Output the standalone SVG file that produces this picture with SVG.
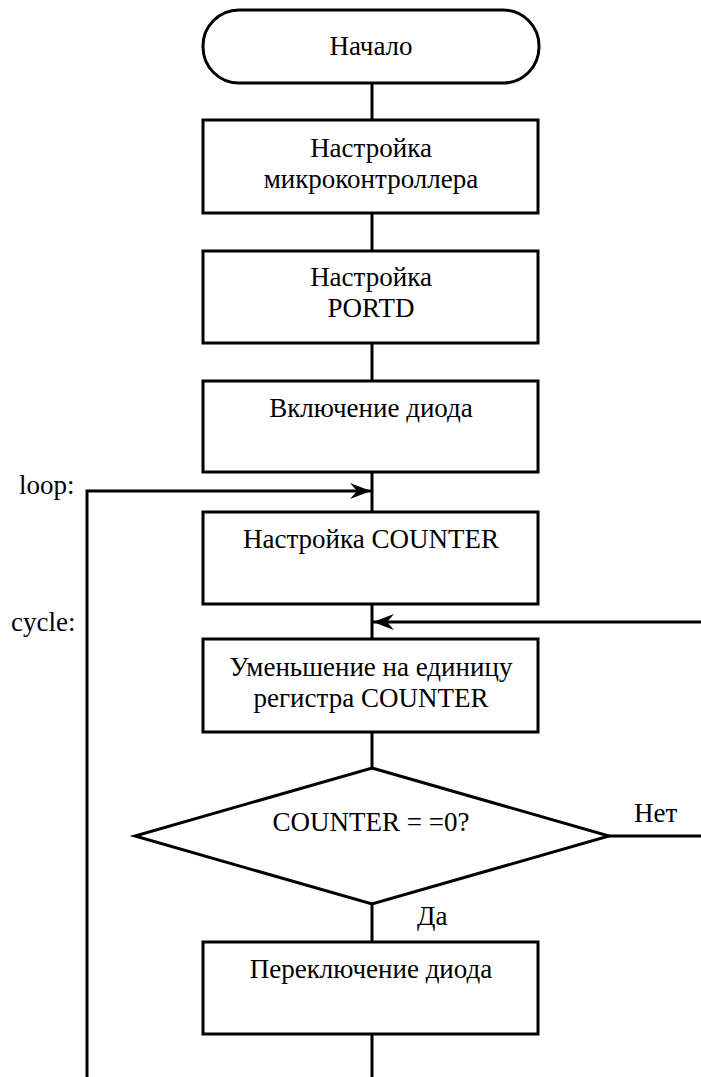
<svg xmlns="http://www.w3.org/2000/svg" width="701" height="1077" viewBox="0 0 701 1077">
<style>
.shape{fill:#fff;stroke:#000;stroke-width:3}
.line{fill:none;stroke:#000;stroke-width:3}
text{font-family:"Liberation Serif","Times New Roman",serif;font-size:27px;fill:#000}
.c{text-anchor:middle}
</style>
<defs>
<marker id="arr" markerUnits="userSpaceOnUse" markerWidth="24" markerHeight="20" viewBox="-22 -10 24 20" refX="0" refY="0" orient="auto">
<path d="M0,0 L-21,-8 L-14,0 L-21,8 Z" fill="#000"/>
</marker>
<linearGradient id="fade" x1="0" y1="0" x2="1" y2="0">
<stop offset="0" stop-color="#888"/>
<stop offset="1" stop-color="#fff"/>
</linearGradient>
</defs>
<rect width="701" height="1077" fill="#fff"/>
<g id="connectors">
<path class="line" d="M372,83 V120"/>
<path class="line" d="M372,213 V251"/>
<path class="line" d="M372,343 V381"/>
<path class="line" d="M372,472 V512"/>
<path class="line" d="M372,604 V639"/>
<path class="line" d="M372,732 V768"/>
<path class="line" d="M372,904 V942"/>
<path class="line" d="M372,1034 V1077"/>
<path class="line" d="M87,1077 V491 H371" marker-end="url(#arr)"/>
<path class="line" d="M609,836 H704 V622 H373" marker-end="url(#arr)"/>
<line x1="87" y1="1076" x2="330" y2="1076" stroke="url(#fade)" stroke-width="2"/>
</g>
<g id="start">
<rect class="shape" x="203" y="10" width="336" height="73" rx="36" ry="36"/>
<text class="c" x="371" y="55">Начало</text>
</g>
<g id="setup-mcu">
<rect class="shape" x="203" y="120" width="335" height="93"/>
<text class="c" x="371" y="157">Настройка</text>
<text class="c" x="371" y="188">микроконтроллера</text>
</g>
<g id="setup-portd">
<rect class="shape" x="203" y="251" width="335" height="92"/>
<text class="c" x="371" y="286">Настройка</text>
<text class="c" x="371" y="317">PORTD</text>
</g>
<g id="led-on">
<rect class="shape" x="203" y="381" width="335" height="91"/>
<text class="c" x="371" y="417">Включение диода</text>
</g>
<g id="setup-counter">
<rect class="shape" x="203" y="512" width="335" height="92"/>
<text class="c" x="371" y="548">Настройка COUNTER</text>
</g>
<g id="dec-counter">
<rect class="shape" x="203" y="639" width="335" height="93"/>
<text class="c" x="371" y="676">Уменьшение на единицу</text>
<text class="c" x="371" y="707">регистра COUNTER</text>
</g>
<g id="check">
<polygon class="shape" points="372,768 609,836 372,904 135,836"/>
<text class="c" x="371" y="831">COUNTER = =0?</text>
</g>
<g id="toggle">
<rect class="shape" x="203" y="942" width="335" height="92"/>
<text class="c" x="371" y="978">Переключение диода</text>
</g>
<g id="labels">
<text x="19" y="494">loop:</text>
<text x="11" y="631">cycle:</text>
<text x="634" y="822">Нет</text>
<text x="417" y="925">Да</text>
</g>
</svg>
